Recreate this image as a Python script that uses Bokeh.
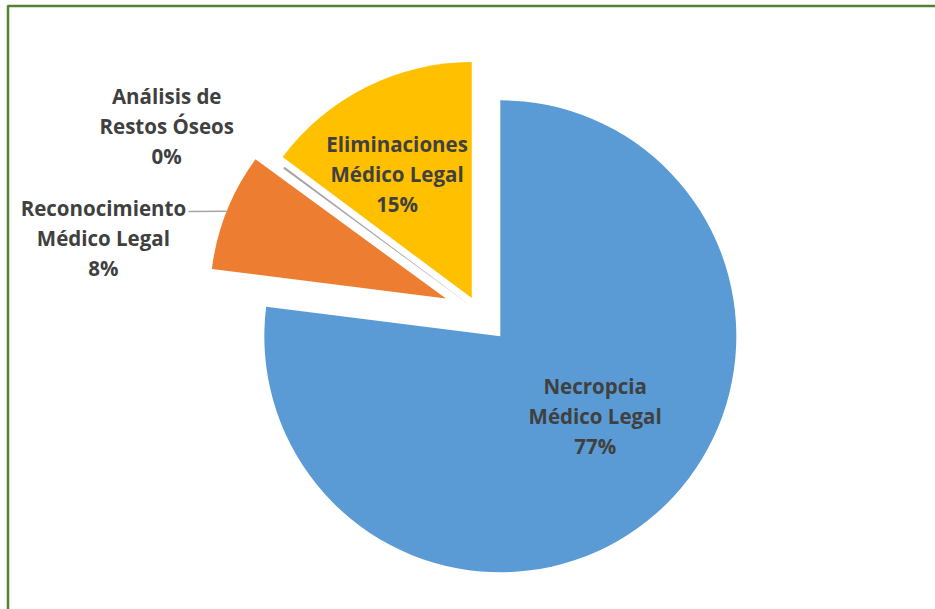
import math
from bokeh.plotting import figure
from bokeh.models import Range1d
from bokeh.core.properties import value
from bokeh.embed import file_html
from bokeh.resources import INLINE

# ---------------- data (drawn counter-clockwise starting at 12 o'clock) ----------------
categories = ["Eliminaciones Médico Legal", "Análisis de Restos Óseos",
              "Reconocimiento Médico Legal", "Necropcia Médico Legal"]
name_lines = [["Eliminaciones", "Médico Legal"],
              ["Análisis de", "Restos Óseos"],
              ["Reconocimiento", "Médico Legal"],
              ["Necropcia", "Médico Legal"]]
shares = [14.8, 0.15, 8.05, 77.0]
colors = ["#FFC000", "#A5A5A5", "#ED7D31", "#5B9BD5"]

# ---------------- layout / style ----------------
W, H = 935, 609
def px(x):  # page x -> data x
    return x
def py(y):  # page y -> data y
    return H - y

CX, CY = px(478), py(311)
R = 236
explode = [15, 6, 35, 33]
label_dist = [145, 357, 348, 124]          # from each slice's vertex
label_angle = [121.0, 149.3, 169.9, 319.9]  # degrees, math orientation
line_gap = 30
text_color = "#404040"
FONT = "Open Sans"
FSIZE = "20.5px"

p = figure(width=W, height=H, x_range=Range1d(0, W), y_range=Range1d(0, H),
           x_axis_type=None, y_axis_type=None, toolbar_location=None,
           output_backend="svg", min_border=0, outline_line_color=None,
           background_fill_color="white", border_fill_color="white")
p.grid.visible = False

total = sum(shares)
start = 90.0
verts = []
for i, s in enumerate(shares):
    span = s / total * 360.0
    a0, a1 = start, start + span
    mid = math.radians((a0 + a1) / 2)
    vx = CX + explode[i] * math.cos(mid)
    vy = CY + explode[i] * math.sin(mid)
    verts.append((vx, vy, mid))
    p.wedge(x=[vx], y=[vy], radius=R, start_angle=[math.radians(a0)],
            end_angle=[math.radians(a1)], direction="anticlock",
            fill_color=colors[i], line_color=None)
    start = a1

# labels
for i, s in enumerate(shares):
    vx, vy, mid = verts[i]
    la = math.radians(label_angle[i])
    lx = vx + label_dist[i] * math.cos(la)
    ly = vy + label_dist[i] * math.sin(la)
    lines = name_lines[i] + [f"{round(s / total * 100)}%"]
    for k, t in enumerate(lines):
        p.text(x=[lx], y=[ly + line_gap * (1 - k)], text=[t],
               text_align="center", text_baseline="middle",
               text_font=value(FONT), text_font_style="bold",
               text_font_size=FSIZE, text_color=text_color)

# leader line for Reconocimiento
vx, vy, mid = verts[2]
sx, sy = vx + R * math.cos(mid), vy + R * math.sin(mid)
la = math.radians(label_angle[2])
lx = vx + label_dist[2] * math.cos(la)
ly = vy + label_dist[2] * math.sin(la)
p.line(x=[sx, lx + 85], y=[sy, ly + line_gap - 6 + 2], line_color="#A6A6A6", line_width=1.5)

# green frame (top and left edges visible in the crop)
p.line(x=[px(7), W], y=[py(5.5), py(5.5)], line_color="#548235", line_width=2.5)
p.line(x=[px(7.5), px(7.5)], y=[0, py(5)], line_color="#548235", line_width=2.5)

open("out.html", "w").write(file_html(p, INLINE))
